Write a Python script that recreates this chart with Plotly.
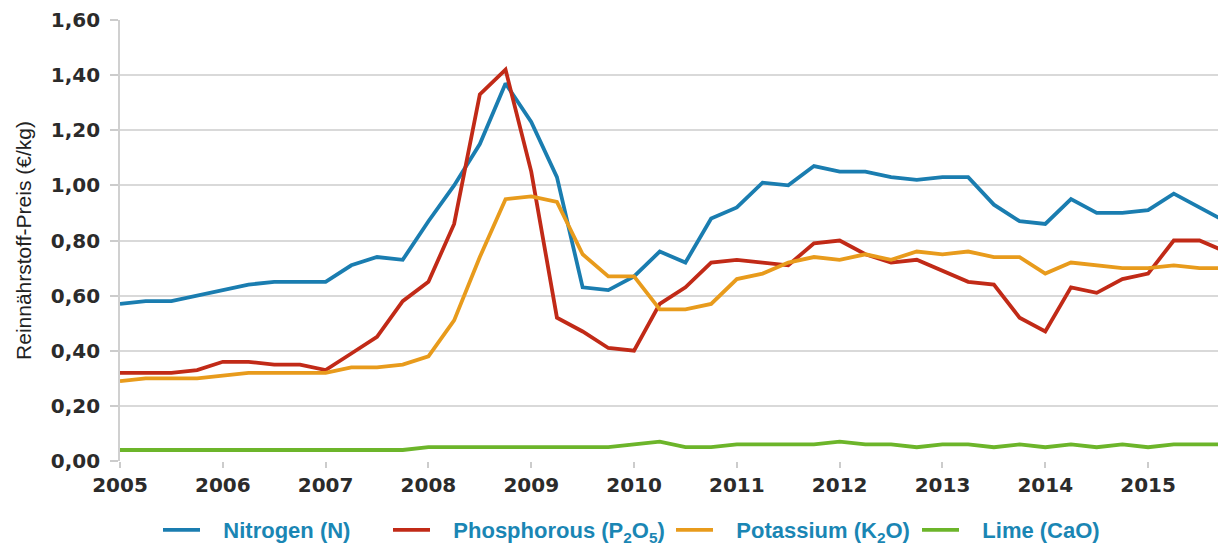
import plotly.graph_objects as go

# quarterly time points 2005.00 .. 2015.75
years = [2005 + q * 0.25 for q in range(44)]

nitrogen = [0.57, 0.58, 0.58, 0.60, 0.62, 0.64, 0.65, 0.65,
            0.65, 0.71, 0.74, 0.73, 0.87, 1.00, 1.15, 1.37,
            1.23, 1.03, 0.63, 0.62, 0.67, 0.76, 0.72, 0.88,
            0.92, 1.01, 1.00, 1.07, 1.05, 1.05, 1.03, 1.02,
            1.03, 1.03, 0.93, 0.87, 0.86, 0.95, 0.90, 0.90,
            0.91, 0.97, 0.92, 0.87]
phosphorous = [0.32, 0.32, 0.32, 0.33, 0.36, 0.36, 0.35, 0.35,
               0.33, 0.39, 0.45, 0.58, 0.65, 0.86, 1.33, 1.42,
               1.05, 0.52, 0.47, 0.41, 0.40, 0.57, 0.63, 0.72,
               0.73, 0.72, 0.71, 0.79, 0.80, 0.75, 0.72, 0.73,
               0.69, 0.65, 0.64, 0.52, 0.47, 0.63, 0.61, 0.66,
               0.68, 0.80, 0.80, 0.76]
potassium = [0.29, 0.30, 0.30, 0.30, 0.31, 0.32, 0.32, 0.32,
             0.32, 0.34, 0.34, 0.35, 0.38, 0.51, 0.74, 0.95,
             0.96, 0.94, 0.75, 0.67, 0.67, 0.55, 0.55, 0.57,
             0.66, 0.68, 0.72, 0.74, 0.73, 0.75, 0.73, 0.76,
             0.75, 0.76, 0.74, 0.74, 0.68, 0.72, 0.71, 0.70,
             0.70, 0.71, 0.70, 0.70]
lime = [0.04, 0.04, 0.04, 0.04, 0.04, 0.04, 0.04, 0.04,
        0.04, 0.04, 0.04, 0.04, 0.05, 0.05, 0.05, 0.05,
        0.05, 0.05, 0.05, 0.05, 0.06, 0.07, 0.05, 0.05,
        0.06, 0.06, 0.06, 0.06, 0.07, 0.06, 0.06, 0.05,
        0.06, 0.06, 0.05, 0.06, 0.05, 0.06, 0.05, 0.06,
        0.05, 0.06, 0.06, 0.06]

series_names = ["Nitrogen (N)", "Phosphorous (P<sub>2</sub>O<sub>5</sub>)",
                "Potassium (K<sub>2</sub>O)", "Lime (CaO)"]
series_values = [nitrogen, phosphorous, potassium, lime]
series_colors = ["#1a7db0", "#c12a17", "#e89b1c", "#6cb52a"]

year_ticks = list(range(2005, 2016))
y_ticks = [0.0, 0.2, 0.4, 0.6, 0.8, 1.0, 1.2, 1.4, 1.6]

# legend entry left edges in figure pixels (layout only)
legend_px = [163, 393, 676, 922]
PLOT_L, PLOT_W = 120, 1098
NB = "\u00a0\u00a0\u00a0"

fig = go.Figure()
legend_ids = ["legend", "legend2", "legend3", "legend4"]
for name, vals, col, lid in zip(series_names, series_values, series_colors, legend_ids):
    fig.add_trace(go.Scatter(x=years, y=vals, name=NB + name, mode="lines",
                             line=dict(color=col, width=3.8), legend=lid))

legend_font = dict(family="Liberation Sans, Arial, sans-serif", size=22,
                   color="#1a86b4", weight="bold")
legends = {}
for lid, px in zip(legend_ids, legend_px):
    legends[lid] = dict(orientation="h", x=(px - PLOT_L - 5) / PLOT_W, xanchor="left",
                        yref="container", y=1 - 530 / 546, yanchor="middle",
                        font=legend_font, bgcolor="rgba(0,0,0,0)", itemwidth=37)

fig.update_layout(
    width=1218, height=546,
    paper_bgcolor="white", plot_bgcolor="white",
    separators=",.",
    margin=dict(l=PLOT_L, r=0, t=20, b=85),
    font=dict(family="Liberation Sans, Arial, sans-serif", color="#222222"),
    showlegend=True,
    **legends,
)
tick_font = dict(family="DejaVu Sans, Verdana, sans-serif", size=20,
                 color="#2b2b2b", weight="bold")
fig.update_xaxes(range=[2005, 2015.68], tickvals=year_ticks,
                 ticktext=[str(y) for y in year_ticks],
                 showgrid=False, zeroline=False, showline=False,
                 ticks="outside", ticklen=6, tickcolor="#cccccc", tickwidth=1.5,
                 ticklabelstandoff=0,
                 tickfont=tick_font)
fig.update_yaxes(range=[0, 1.6], tickvals=y_ticks, tickformat=".2f",
                 showgrid=True, gridcolor="#d9d9d9", gridwidth=1.8,
                 zeroline=False, showline=True, linecolor="#d0d0d0", linewidth=1.8,
                 ticks="outside", ticklen=8, tickcolor="#cccccc", tickwidth=1.5,
                 ticklabelstandoff=6,
                 tickfont=tick_font,
                 title=dict(text="Reinnährstoff-Preis (€/kg)", standoff=13,
                            font=dict(size=21, color="#222222",
                                      family="Liberation Sans, Arial, sans-serif")))

fig.write_html("out.html", config={"displayModeBar": False},
               post_script="document.body.style.margin='0px';")
